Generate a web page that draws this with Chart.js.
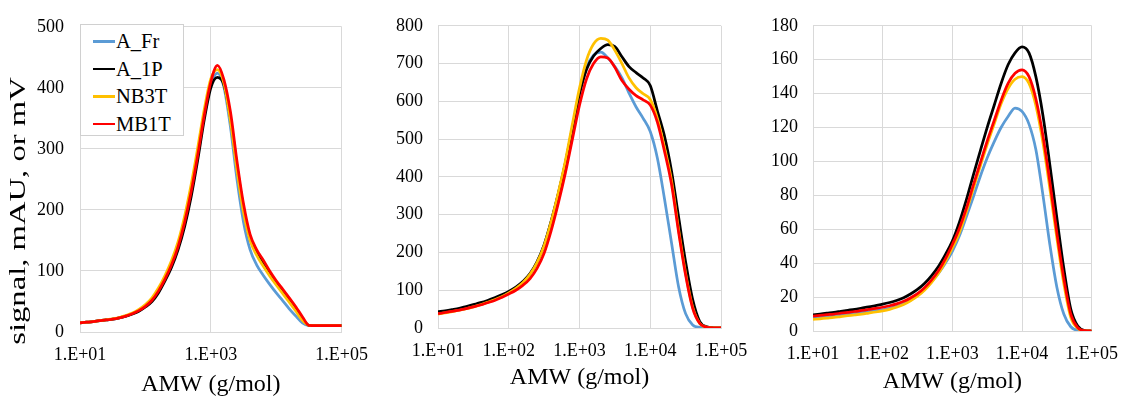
<!DOCTYPE html>
<html><head><meta charset="utf-8">
<script src="https://cdn.jsdelivr.net/npm/chart.js@4.4.1/dist/chart.umd.min.js"></script>
<style>
html,body{margin:0;padding:0;background:#fff;width:1130px;height:399px;overflow:hidden;}
canvas{position:absolute;top:0;}
#legend{position:absolute;left:80px;top:24px;width:104px;height:112px;border:1px solid #d0d0d0;background:#fff;box-sizing:border-box;font-family:"Liberation Serif","Times New Roman",serif;font-size:20.5px;color:#000;}
.item{position:absolute;left:12px;height:24px;line-height:24px;white-space:nowrap;}
.item i{display:inline-block;width:22px;height:2.5px;vertical-align:middle;margin-right:1px;position:relative;top:-2px;}
</style></head>
<body>
<canvas id="c1" width="380" height="399" style="left:0px"></canvas>
<canvas id="c2" width="390" height="399" style="left:370px"></canvas>
<canvas id="c3" width="385" height="399" style="left:745px"></canvas>
<div id="legend"></div>
<script>
// AMW (g/mol) sample positions
const AMW = [10,12.6,15.8,20,25.1,31.6,39.8,50.1,63.1,79.4,
  100,126,158,200,251,316,398,501,631,794,
  1000,1260,1580,2000,2510,3160,3980,5010,6310,7940,
  10000,12600,15800,20000,25100,31600,39800,50100,63100,79400,100000];

const SERIES = ['A_Fr','A_1P','NB3T','MB1T'];
const COLORS = ['#5B9BD5','#000000','#FFC000','#FF0000'];

// Panel 1
const p1_AFr = [15,16,17,18.5,20,21,23,26,30,35, 42,52,67,87,110,141,182,233,293,357, 405,424,402,335,250,180,135,110,93,78, 64,51,38,26,15,10.5,10.5,10.5,10.5,10.5, 10.5];
const p1_A1P = [15,16,17,18.5,20,21,23,26,29.5,34, 41,50,64,84,106,135,173,222,282,348, 400,417,405,350,272,203,155,131,114,97, 81,67,53,38,22,11,10.5,10.5,10.5,10.5, 10.5];
const p1_NB3T = [15,16,17,18.5,20,21.5,23.5,27,31,37, 45,56,72,93,117,148,190,242,302,365, 415,430,408,345,265,196,150,126,108,92, 77,63,49,34,19,11,10.5,10.5,10.5,10.5, 10.5];
const p1_MB1T = [15,16,17,18.5,20,21,23,26,30,35, 42,52,67,87,110,140,180,230,290,355, 410,437,414,360,280,210,160,135,118,100, 84,70,56,41,25,11,10.5,10.5,10.5,10.5, 10.5];

// Panel 2
const p2_AFr = [38,41,44.5,48,52,57,62.5,69,76,85, 95,107,122,143,174,219,282,355,436,525, 615,690,722,730,715,692,662,622,585,555, 520,450,345,225,110,38,8,1.5,0.3,0, 0];
const p2_A1P = [43,45.5,48.5,52,57,62,67,73,80,88, 97,108,123,144,175,220,283,355,437,530, 620,685,720,740,750,745,718,692,676,662, 642,575,510,415,295,175,75,17,3,0.5, 0];
const p2_NB3T = [37,40,43.5,47,51,56,61.5,68,75,83, 93,105,120,142,173,218,282,358,442,540, 635,710,752,767,762,735,700,662,636,620, 605,555,480,390,262,145,55,12,2,0.3, 0];
const p2_MB1T = [38,41,44,47.5,51.5,56,61,67,73,81, 90,100,113,131,158,198,258,330,410,500, 590,660,700,718,715,690,655,632,615,604, 590,545,470,380,255,140,52,12,2,0.3, 0];

// Panel 3
const p3_AFr = [8,8.3,8.7,9.1,9.5,10,10.5,11,11.5,12, 12.5,13.4,14.6,16.2,18.3,21,24.5,29,34,40, 47,56,67,79,91,102,111.5,120,126.5,131.5, 129.5,122,107,80,51,26,10,2.5,0.3,0, 0];
const p3_A1P = [9.5,10,10.5,11,11.6,12.2,12.8,13.5,14.2,15, 15.8,16.8,18,19.6,21.8,24.5,28,32.5,38,45, 53,64,77,92,106,120,133,146,157,164, 167.5,164,150,127,98,67,37,13,3,0.3, 0];
const p3_NB3T = [6.8,7.2,7.6,8,8.5,9,9.5,10,10.6,11.2, 11.9,12.8,14,15.6,17.8,20.5,24,28.5,34,41, 49,58,70,84,97,110,122,134,143,148.5, 150,146,133,111,84,55,28,8,1.5,0.1, 0];
const p3_MB1T = [8.8,9.2,9.6,10,10.5,11,11.5,12.1,12.7,13.3, 14,14.9,16,17.5,19.5,22,25.5,30,35.5,42.5, 51,60.5,72,86,99,112,124,136,146,152, 154,150,137,115,88,58,31,10,2,0.2, 0];

const X_TICKS_1 = [10, 1000, 100000];
const X_TICKS_23 = [10, 100, 1000, 10000, 100000];
const X_TITLE = 'AMW (g/mol)';
const Y_TITLE = 'signal, mAU, or mV';

const FONT = '"Liberation Serif", "Times New Roman", serif';
const GRID = '#d9d9d9';

const yTitlePlugin = {
  id: 'yTitle',
  afterDraw(chart, args, opts) {
    if (!opts || !opts.text) return;
    const c = chart.ctx;
    c.save();
    c.translate(opts.x, opts.y);
    c.rotate(-Math.PI / 2);
    c.scale(opts.stretch, 1);
    c.font = opts.size + 'px ' + FONT;
    c.fillStyle = '#000';
    c.textAlign = 'center';
    c.textBaseline = 'middle';
    c.fillText(opts.text, 0, 0);
    c.restore();
  }
};

function fmtAMW(v) {
  const e = Math.round(Math.log10(v));
  return '1.E+' + String(e).padStart(2, '0');
}

function makeChart(id, seriesData, L) {
  const n = seriesData.length;
  const datasets = seriesData.map((arr, i) => ({
    label: SERIES[i],
    data: AMW.map((x, j) => ({ x: x, y: arr[j] })),
    borderColor: COLORS[i],
    backgroundColor: COLORS[i],
    borderWidth: 2.75,
    pointRadius: 0,
    fill: false,
    order: n - 1 - i,   // later series drawn on top, as in the original
    cubicInterpolationMode: 'monotone'
  }));
  return new Chart(document.getElementById(id), {
    type: 'line',
    data: { datasets },
    plugins: L.yTitle ? [yTitlePlugin] : [],
    options: {
      responsive: false,
      animation: false,
      devicePixelRatio: 1,
      layout: { padding: { left: 0, right: L.padRight, top: L.padTop, bottom: 0 } },
      plugins: {
        legend: { display: false },
        tooltip: { enabled: false },
        yTitle: L.yTitle || {}
      },
      scales: {
        x: {
          type: 'logarithmic',
          min: 10, max: 100000,
          afterBuildTicks: s => { s.ticks = L.xTicks.map(v => ({ value: v })); },
          afterFit: s => { s.height = L.xHeight; },
          grid: { color: GRID, drawTicks: false, lineWidth: 1 },
          border: { color: GRID },
          ticks: {
            autoSkip: false, maxRotation: 0, padding: 12,
            color: '#000', font: { family: FONT, size: 18 },
            callback: v => fmtAMW(v)
          },
          title: {
            display: true, text: X_TITLE, color: '#000',
            font: { family: FONT, size: 24 },
            padding: { top: 0, bottom: L.xTitlePad }
          }
        },
        y: {
          type: 'linear',
          min: 0, max: L.yMax,
          afterFit: s => { s.width = L.yWidth; },
          grid: { color: GRID, drawTicks: false, lineWidth: 1 },
          border: { color: GRID },
          ticks: {
            stepSize: L.yStep, padding: L.yPad,
            color: '#000', font: { family: FONT, size: 18 }
          }
        }
      }
    }
  });
}

const chart1 = makeChart('c1', [p1_AFr, p1_A1P, p1_NB3T, p1_MB1T], {
  padRight: 38, padTop: 24, xHeight: 67, yWidth: 80, yMax: 500, yStep: 100, yPad: 16,
  xTicks: X_TICKS_1, xTitlePad: 0,
  yTitle: { text: Y_TITLE, x: 19, y: 211, size: 24, stretch: 1.36 }
});
makeChart('c2', [p2_AFr, p2_A1P, p2_NB3T, p2_MB1T], {
  padRight: 39, padTop: 19, xHeight: 71, yWidth: 68, yMax: 800, yStep: 100, yPad: 15,
  xTicks: X_TICKS_23, xTitlePad: 7
});
makeChart('c3', [p3_AFr, p3_A1P, p3_NB3T, p3_MB1T], {
  padRight: 34, padTop: 24, xHeight: 68, yWidth: 68, yMax: 180, yStep: 20, yPad: 15,
  xTicks: X_TICKS_23, xTitlePad: 3
});

// Legend built from chart 1's datasets
const lg = document.getElementById('legend');
chart1.data.datasets.forEach((ds, i) => {
  const d = document.createElement('div');
  d.className = 'item';
  d.style.top = (4 + i * 27.5) + 'px';
  const sw = document.createElement('i');
  sw.style.background = ds.borderColor;
  d.appendChild(sw);
  d.appendChild(document.createTextNode(ds.label));
  lg.appendChild(d);
});
</script>
</body></html>
